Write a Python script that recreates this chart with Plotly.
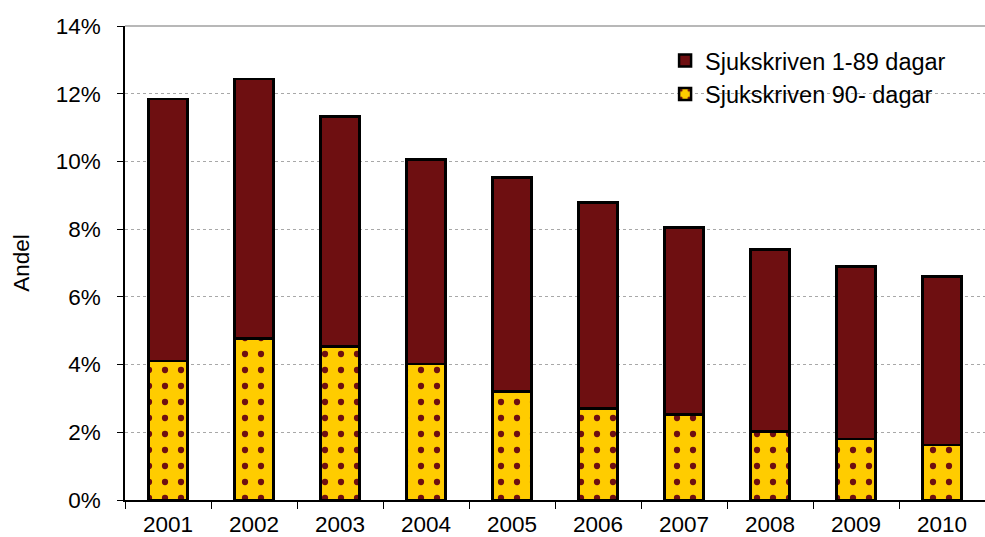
import plotly.graph_objects as go

years = ["2001", "2002", "2003", "2004", "2005", "2006", "2007", "2008", "2009", "2010"]
long_term = [4.10, 4.77, 4.54, 4.01, 3.21, 2.71, 2.53, 2.03, 1.80, 1.62]   # Sjukskriven 90- dagar
total = [11.85, 12.44, 11.32, 10.05, 9.52, 8.78, 8.05, 7.40, 6.90, 6.60]
short_term = [round(t - l, 2) for t, l in zip(total, long_term)]          # Sjukskriven 1-89 dagar
y_ticks = [0, 2, 4, 6, 8, 10, 12, 14]
y_tick_labels = ["0%", "2%", "4%", "6%", "8%", "10%", "12%", "14%"]

DARK_RED = "#6E0F11"
YELLOW = "#FFCC00"
FONT = "Liberation Sans, Arial, sans-serif"

fig = go.Figure()
fig.add_trace(go.Bar(
    x=years, y=long_term, name="Sjukskriven 90- dagar",
    legendgroup="b", legendrank=2,
    marker=dict(color=YELLOW, line=dict(color="black", width=2.5),
                pattern=dict(shape=".", fgcolor=DARK_RED, bgcolor=YELLOW, fgopacity=1,
                             size=16, solidity=0.12, fillmode="overlay")),
))
fig.add_trace(go.Bar(
    x=years, y=short_term, name="Sjukskriven 1-89 dagar",
    legendgroup="a", legendrank=1,
    marker=dict(color=DARK_RED, line=dict(color="black", width=2.5)),
))

fig.update_layout(
    barmode="stack",
    bargap=0.55,
    width=985, height=537,
    margin=dict(l=125, r=0, t=26, b=35),
    plot_bgcolor="white", paper_bgcolor="white",
    font=dict(family=FONT, size=22.5, color="black"),
    legend=dict(x=0.628, y=0.973, xanchor="left", yanchor="top",
                traceorder="normal", tracegroupgap=8,
                bgcolor="rgba(0,0,0,0)", font=dict(family=FONT, size=23.5)),
    shapes=[dict(type="line", xref="paper", yref="paper", x0=0, x1=1, y0=1, y1=1,
                 line=dict(color="#A0A0A0", width=1.5))],
)
fig.update_xaxes(type="category", showline=True, linecolor="black", linewidth=1.5,
                 ticks="outside", tickson="boundaries", ticklen=7, tickcolor="black",
                 tickfont=dict(family=FONT, size=22.5), ticklabelstandoff=3,
                 showgrid=False)
fig.update_yaxes(range=[0, 14], tickvals=y_ticks, ticktext=y_tick_labels,
                 showline=True, linecolor="black", linewidth=1.5,
                 ticks="outside", ticklen=6, tickcolor="black",
                 tickfont=dict(family=FONT, size=22.5), ticklabelstandoff=12,
                 showgrid=True, gridcolor="#A8A8A8", griddash="dot", gridwidth=1,
                 zeroline=False,
                 title=dict(text="Andel", standoff=20, font=dict(family=FONT, size=22.5)))

fig.write_html("out.html", config={"displayModeBar": False},
               post_script="document.body.style.margin='0';")
